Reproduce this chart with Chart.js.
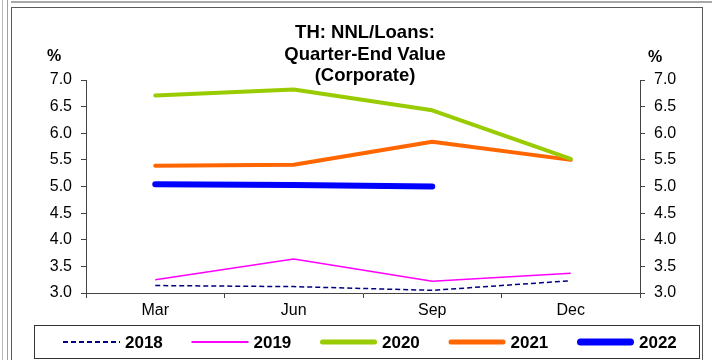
<!DOCTYPE html>
<html lang="en">
<head>
<meta charset="UTF-8">
<title>TH: NNL/Loans: Quarter-End Value (Corporate)</title>
<script src="https://cdn.jsdelivr.net/npm/chart.js"></script>
<style>
  body { margin: 0; background: #fff; }
  .wrap { position: relative; width: 712px; height: 360px; overflow: hidden; }
  .edge { position: absolute; }
  canvas { position: absolute; left: 0; top: 0; }
</style>
</head>
<body>
<div class="wrap">
  <div class="edge" style="left:11px;top:1px;width:701px;border-top:2px solid #a8a8a8"></div>
  <div class="edge" style="left:2px;top:0;height:360px;border-left:1px solid #b8b8b8"></div>
  <div class="edge" style="left:7px;top:0;height:360px;border-left:1px solid #a0a0a0"></div>
  <div class="edge" style="left:11px;top:7px;width:690px;height:360px;border:1px solid #5a5a5a"></div>
  <canvas id="chart" width="712" height="360"></canvas>
</div>

<script>
// data
const quarters = ["Mar", "Jun", "Sep", "Dec"];
const v2018 = [3.14, 3.12, 3.05, 3.23];
const v2019 = [3.25, 3.64, 3.22, 3.37];
const v2020 = [6.71, 6.82, 6.43, 5.52];
const v2021 = [5.39, 5.41, 5.84, 5.50];
const v2022 = [5.04, 5.03, 5.00];
const titleLines = ["TH: NNL/Loans:", "Quarter-End Value", "(Corporate)"];
const unitLabel = "%";

const font = '"Liberation Sans", Arial, sans-serif';

// title, "%" labels and the boxed legend under the plot
const extras = {
  id: "extras",
  afterDraw(chart) {
    const ctx = chart.ctx;
    const area = chart.chartArea;
    ctx.save();
    ctx.fillStyle = "#000";
    ctx.textAlign = "center";
    ctx.textBaseline = "alphabetic";
    ctx.font = "bold 18.5px " + font;
    const cx = (area.left + area.right) / 2 + 2;
    titleLines.forEach((t, i) => ctx.fillText(t, cx, 38 + i * 21.5));

    ctx.font = "bold 16px " + font;
    ctx.fillText(unitLabel, 54, 61);
    ctx.fillText(unitLabel, 655, 62);

    // legend frame
    ctx.strokeStyle = "#333";
    ctx.lineWidth = 1;
    ctx.strokeRect(34.5, 325.5, 665, 33);

    ctx.font = "bold 17px " + font;
    ctx.textAlign = "left";
    ctx.textBaseline = "middle";
    chart.data.datasets.forEach((ds, i) => {
      const x0 = 63 + i * 128.5;
      const y = 342;
      ctx.beginPath();
      ctx.strokeStyle = ds.borderColor;
      ctx.lineWidth = ds.legendWidth;
      ctx.lineCap = ds.borderCapStyle || "butt";
      ctx.setLineDash(ds.borderDash || []);
      const inset = ds.borderCapStyle === "round" ? ds.legendWidth / 2 : 0;
      ctx.moveTo(x0 + inset, y);
      ctx.lineTo(x0 + 57 - inset, y);
      ctx.stroke();
      ctx.setLineDash([]);
      ctx.fillStyle = "#000";
      ctx.fillText(ds.label, x0 + 62, y + 1);
    });
    ctx.restore();
  }
};

const yTicks = {
  color: "#000",
  font: { family: font, size: 16 },
  padding: 9,
  stepSize: 0.5,
  callback: v => v.toFixed(1)
};
const yGrid = { display: true, drawOnChartArea: false, drawTicks: true, tickLength: 5, color: "#444" };
const yBorder = { display: true, color: "#444", width: 1 };

new Chart(document.getElementById("chart"), {
  type: "line",
  data: {
    labels: quarters,
    datasets: [
      { label: "2018", data: v2018, borderColor: "#000080", borderWidth: 1.5, borderDash: [5, 3], legendWidth: 2 },
      { label: "2019", data: v2019, borderColor: "#ff00ff", borderWidth: 1.5, legendWidth: 2 },
      { label: "2020", data: v2020, borderColor: "#99cc00", borderWidth: 4, legendWidth: 5, borderCapStyle: "round" },
      { label: "2021", data: v2021, borderColor: "#ff6600", borderWidth: 4, legendWidth: 5, borderCapStyle: "round" },
      { label: "2022", data: v2022, borderColor: "#0000ff", borderWidth: 6, legendWidth: 7, borderCapStyle: "round" }
    ]
  },
  options: {
    responsive: false,
    animation: false,
    layout: { padding: { top: 80, left: 0, right: 0, bottom: 37 } },
    elements: {
      point: { radius: 0, hoverRadius: 0 },
      line: { tension: 0, fill: false, borderJoinStyle: "round" }
    },
    plugins: {
      legend: { display: false },
      title: { display: false },
      tooltip: { enabled: false }
    },
    scales: {
      x: {
        offset: true,
        grid: { display: true, offset: true, drawOnChartArea: false, drawTicks: true, tickLength: 5, color: "#444" },
        border: { display: true, color: "#444", width: 1 },
        ticks: { color: "#000", font: { family: font, size: 16 }, padding: 3, maxRotation: 0 },
        afterFit: s => { s.height = 30; }
      },
      y: {
        position: "left",
        min: 3, max: 7,
        ticks: yTicks,
        grid: yGrid,
        border: yBorder,
        afterFit: s => { s.width = 86; }
      },
      y2: {
        position: "right",
        display: true,
        min: 3, max: 7,
        ticks: yTicks,
        grid: yGrid,
        border: yBorder,
        afterFit: s => { s.width = 72; }
      }
    }
  },
  plugins: [extras]
});
</script>
</body>
</html>
